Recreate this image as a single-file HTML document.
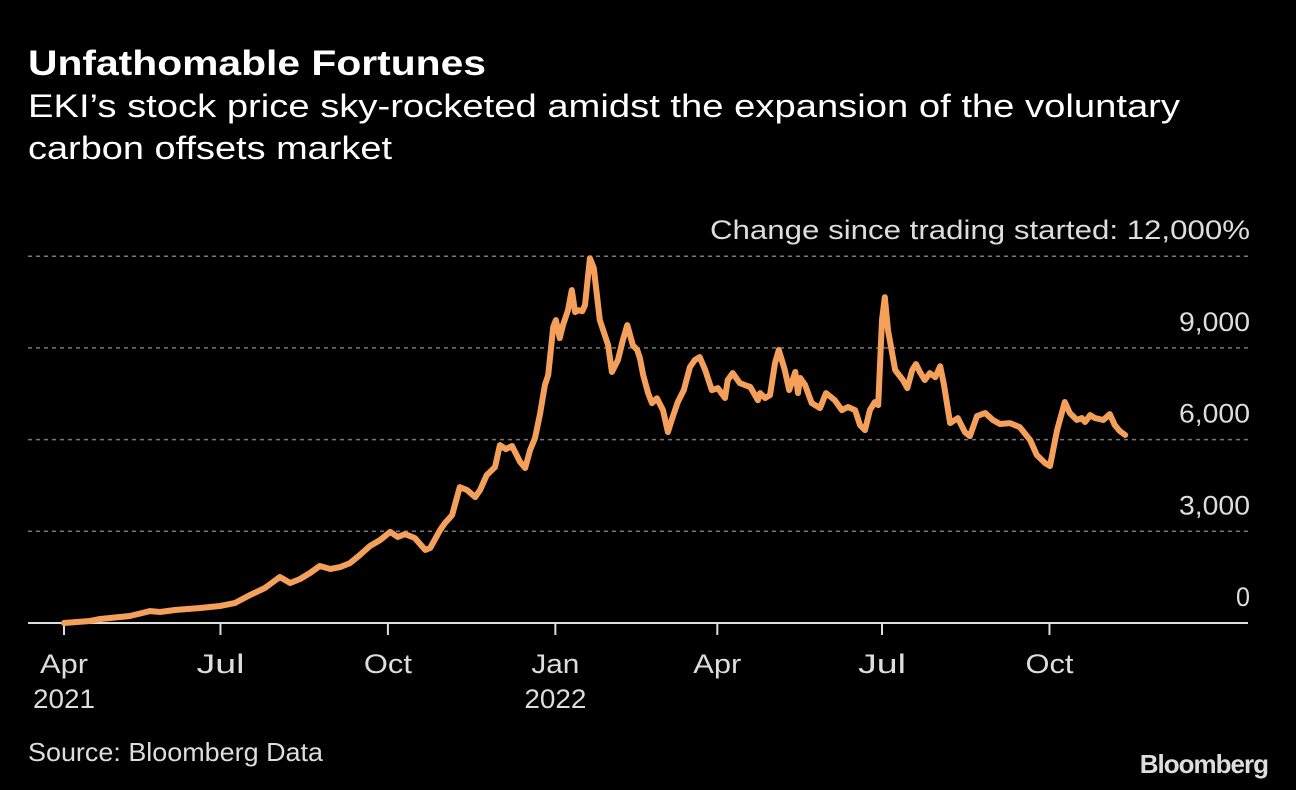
<!DOCTYPE html>
<html><head><meta charset="utf-8"><style>
body{margin:0;background:#000;width:1296px;height:790px;overflow:hidden;font-family:"Liberation Sans",sans-serif;}
svg{display:block}
</style></head><body>
<svg width="1296" height="790">
<text x="28" y="75" fill="#fff" font-size="35" font-weight="bold" textLength="458" lengthAdjust="spacingAndGlyphs">Unfathomable Fortunes</text>
<text x="28" y="117" fill="#fff" font-size="32" textLength="1152" lengthAdjust="spacingAndGlyphs">EKI’s stock price sky-rocketed amidst the expansion of the voluntary</text>
<text x="28" y="159" fill="#fff" font-size="32" textLength="364" lengthAdjust="spacingAndGlyphs">carbon offsets market</text>
<g id="grid"></g>
<g id="xaxis"></g>
<path id="line" fill="none" stroke="#f4a05a" stroke-width="6" stroke-linejoin="round" stroke-linecap="round"/>
<text x="28" y="761" fill="#ddd" font-size="26" textLength="295" lengthAdjust="spacingAndGlyphs">Source: Bloomberg Data</text>
<text x="1268" y="773" fill="#ddd" font-size="26" font-weight="bold" text-anchor="end" letter-spacing="-1">Bloomberg</text>
</svg>
<script>
const months=[0,0.47,0.66,1.2,1.57,1.75,2.02,2.48,2.84,3.11,3.39,3.66,3.93,4.12,4.3,4.48,4.66,4.85,5.03,5.21,5.39,5.57,5.76,5.94,6.08,6.21,6.39,6.58,6.67,6.85,6.94,7.07,7.21,7.34,7.49,7.58,7.7,7.85,7.94,8.05,8.16,8.31,8.4,8.49,8.58,8.67,8.76,8.82,8.91,8.96,9.03,9.09,9.18,9.25,9.31,9.38,9.44,9.49,9.58,9.65,9.76,9.85,9.91,9.98,10.09,10.18,10.26,10.36,10.44,10.49,10.55,10.64,10.71,10.8,10.91,11,11.07,11.18,11.29,11.4,11.49,11.58,11.68,11.8,11.91,12.04,12.09,12.18,12.31,12.4,12.5,12.64,12.68,12.77,12.86,12.95,13.02,13.13,13.21,13.32,13.37,13.41,13.5,13.62,13.77,13.88,14.04,14.17,14.28,14.41,14.5,14.59,14.68,14.77,14.83,14.9,14.95,15.01,15.14,15.28,15.36,15.45,15.52,15.59,15.68,15.77,15.87,15.96,16.03,16.14,16.28,16.41,16.5,16.63,16.78,16.92,17.05,17.23,17.41,17.6,17.72,17.87,17.96,18.09,18.23,18.32,18.45,18.54,18.6,18.69,18.78,18.93,19.05,19.14,19.23,19.33];
const values=[0,65,130,230,390,360,425,490,555,650,915,1145,1505,1310,1440,1635,1865,1765,1830,1960,2225,2515,2715,2980,2815,2910,2780,2390,2455,3040,3270,3530,4445,4350,4120,4350,4840,5100,5820,5690,5790,5265,5070,5660,6050,6835,7785,8110,9680,9910,9320,9745,10235,10890,10170,10235,10200,10400,11935,11610,9910,9420,9090,8210,8600,9260,9745,9090,8930,8665,8110,7520,7195,7355,6965,6245,6640,7230,7620,8370,8600,8700,8275,7620,7685,7360,7945,8175,7850,7785,7720,7290,7520,7360,7455,8500,8930,8275,7620,8210,7520,8015,7785,7195,7030,7520,7290,6965,7065,6965,6475,6310,6965,7230,7130,9910,10660,9580,8275,7950,7685,8275,8470,8210,7950,8175,8040,8400,7785,6540,6705,6245,6115,6770,6870,6640,6510,6540,6410,5985,5495,5230,5135,6310,7230,6870,6640,6705,6575,6800,6705,6640,6835,6475,6280,6150];
const yTicks=[0,3000,6000,9000,12000];
const yTickLabels=["0","3,000","6,000","9,000","Change since trading started:  12,000%"];
const xTickMonths=[0,2.85,5.9,8.95,11.9,14.9,17.95];
const xTickLabels=["Apr","Jul","Oct","Jan","Apr","Jul","Oct"];
const xTickYears=["2021","","","2022","","",""];
const X=m=>64+m*54.9, Y=v=>623-v*(91.7/3000);
const NS="http://www.w3.org/2000/svg";
const grid=document.getElementById('grid'), xa=document.getElementById('xaxis');
function mk(tag,attrs,parent,txt){const e=document.createElementNS(NS,tag);for(const k in attrs)e.setAttribute(k,attrs[k]);if(txt!==undefined)e.textContent=txt;parent.appendChild(e);return e;}
yTicks.forEach((v,i)=>{
  if(v!==0){const g=mk('line',{x1:28,x2:1248,y1:Y(v),y2:Y(v),stroke:'#777','stroke-width':1.5,'stroke-dasharray':'4 4'},grid);
  
  }
  const a={x:1250,y:Y(v)-17,fill:'#ddd','font-size':27,'text-anchor':'end'};
  const lbl=yTickLabels[i];
  a.textLength=Math.round(lbl.length*14.2);a.lengthAdjust='spacingAndGlyphs';
  const t=mk('text',a,grid,lbl);
  
  
});
const base=mk('line',{x1:28,x2:1248,y1:623,y2:623,stroke:'#ddd','stroke-width':2},xa);


xTickMonths.forEach((m,i)=>{
  const tk=mk('line',{x1:X(m),x2:X(m),y1:623,y2:635,stroke:'#ddd','stroke-width':2},xa);
  
  
  const lb=xTickLabels[i];
  const t=mk('text',{x:X(m),y:673,fill:'#ddd','font-size':27,'text-anchor':'middle',textLength:lb.length*16,lengthAdjust:'spacingAndGlyphs'},xa,lb);
  
  
  if(xTickYears[i]){const y=mk('text',{x:X(m),y:708,fill:'#ddd','font-size':27,'text-anchor':'middle',textLength:62,lengthAdjust:'spacingAndGlyphs'},xa,xTickYears[i]);
  
  }
});
document.getElementById('line').setAttribute('d',months.map((m,i)=>(i?'L':'M')+X(m).toFixed(1)+','+Y(values[i]).toFixed(1)).join(''));
</script>
</body></html>
